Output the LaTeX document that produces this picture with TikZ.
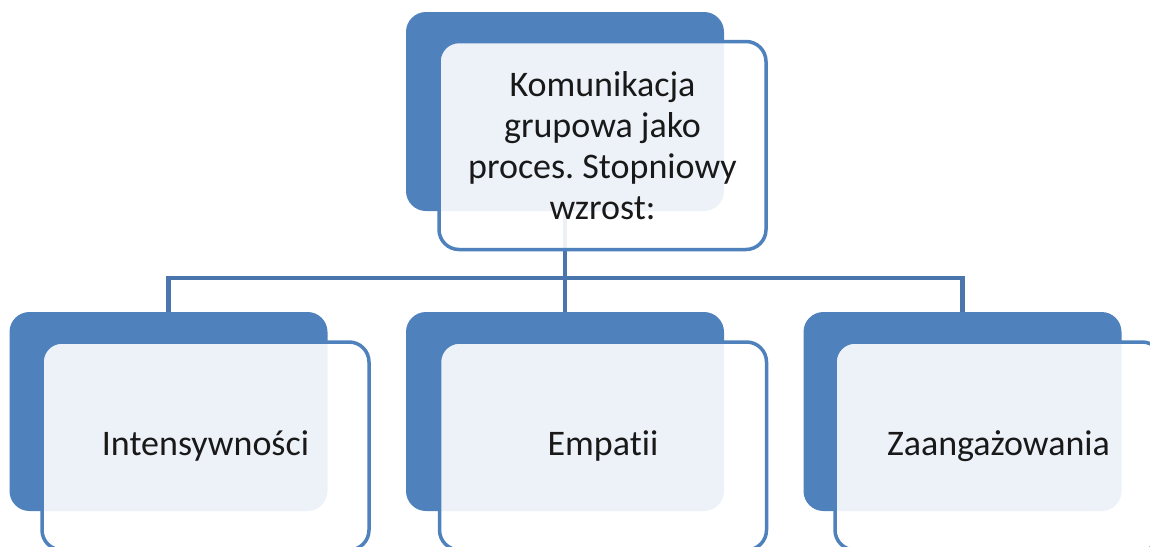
\documentclass[tikz,border=0pt]{standalone}
\usepackage{fontspec}
\setmainfont{Carlito}[Ligatures={NoCommon}]
\frenchspacing
\definecolor{accblue}{HTML}{4F81BD}
\definecolor{linkblue}{HTML}{4A76AD}
\begin{document}
\begin{tikzpicture}[x=1pt,y=-1pt,
  backbox/.style={rectangle, rounded corners=20pt, fill=accblue, draw=none,
    minimum width=318pt, minimum height=199pt, inner sep=0pt, outer sep=0pt},
  frontbox/.style={rectangle, rounded corners=20pt, fill=white, fill opacity=0.9,
    text opacity=1, draw=accblue, line width=3.5pt, draw opacity=1,
    minimum width=327pt, minimum height=208pt, inner sep=0pt, outer sep=0pt,
    font=\fontsize{36}{41}\selectfont, align=center, text=black!90},
  link/.style={draw=linkblue, line width=4.5pt}]
\useasboundingbox (0,0) rectangle (1150,546);
\fill[white] (0,0) rectangle (1150,546);
% back boxes
\node[backbox] (tb) at (565,111.5) {};
\node[backbox] (c1b) at (168.5,411.5) {};
\node[backbox] (c2b) at (565,411.5) {};
\node[backbox] (c3b) at (962.5,411.5) {};
% connectors
\coordinate (j) at (565,278);
\draw[link] (tb.south) -- (j);
\draw[link] (j) -| (c1b.north);
\draw[link] (j) -- (c2b.north);
\draw[link] (j) -| (c3b.north);
% front boxes
\node[frontbox] (tf) at (602.5,145.5) {Komunikacja\\grupowa jako\\proces. Stopniowy\\wzrost:};
\node[frontbox] (c1f) at (205.5,446) {Intensywności};
\node[frontbox] (c2f) at (603,446) {Empatii};
\node[frontbox] (c3f) at (998.5,446) {Zaangażowania};
\end{tikzpicture}
\end{document}
